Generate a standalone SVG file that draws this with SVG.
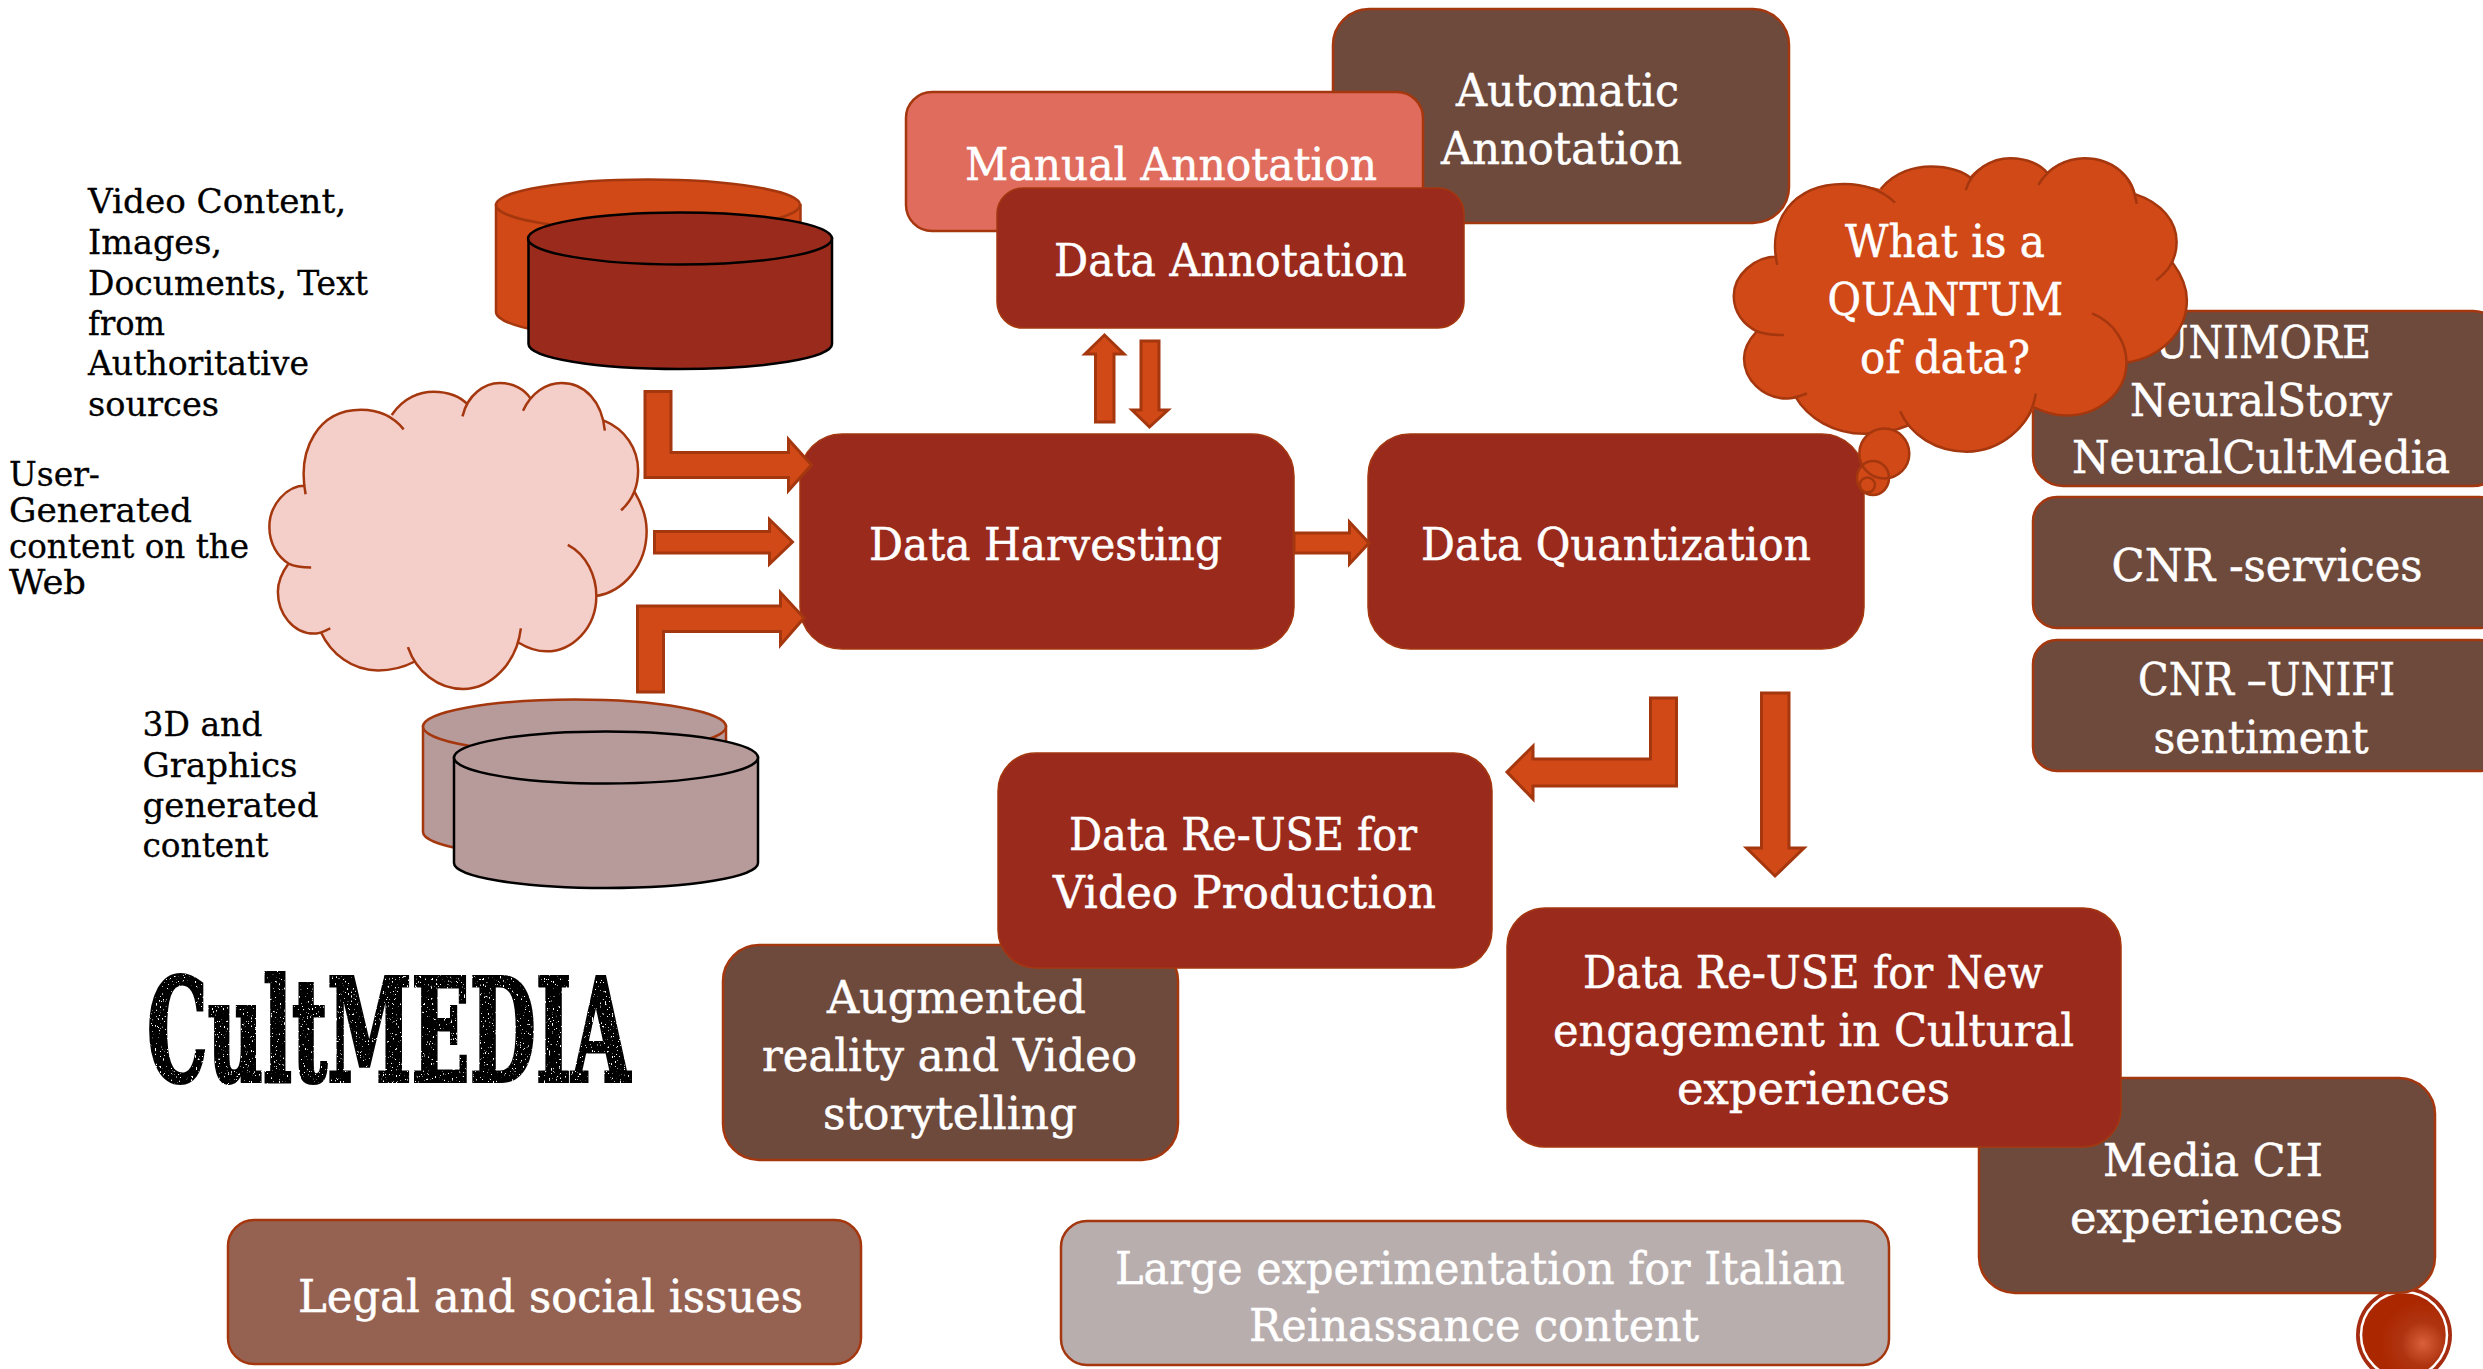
<svg xmlns="http://www.w3.org/2000/svg" xmlns:xlink="http://www.w3.org/1999/xlink" width="2483" height="1369" viewBox="0 0 2483 1369">
<style>
text{font-family:"DejaVu Serif","Liberation Serif",serif}
.t{font-size:44px;fill:#fff;stroke:#fff;stroke-width:.5}
.b{font-size:34px;fill:#000;stroke:#000;stroke-width:.3}
.box{stroke:#a5370f;stroke-width:2.5}
.dark{fill:#9a2b1c;stroke:#a5370f;stroke-width:1.5}
.brown{fill:#6e4a3c}
.arrow{fill:#d04917;stroke:#a5370f;stroke-width:3}
.cloudline{fill:none;stroke:#a5370f;stroke-width:2.5}
</style>
<defs>
<path id="cloudShape" d="M190 325C170 220 220 130 320 130C345 130 370 135 392 142C420 100 460 88 490 88C525 88 550 98 566 112C585 85 615 68 645 68C680 68 702 85 716 102C735 80 760 68 790 68C845 68 885 110 890 155C940 175 970 220 970 270C970 290 968 305 962 320C980 350 990 380 990 410C990 490 935 550 872 560C872 635 815 688 755 688C730 688 710 680 692 668C670 730 620 775 560 775C505 775 465 745 445 712C420 725 390 732 360 732C300 732 250 695 225 642C220 645 215 647 210 647C160 647 125 600 125 550C125 525 135 505 150 485C125 470 105 440 105 400C105 350 145 305 190 305Z"/>
<path id="cloudLines" vector-effect="non-scaling-stroke" d="M190 325C170 220 220 130 320 130C360 130 395 145 420 175M392 142C420 100 460 88 490 88C525 88 555 100 570 118M558 145C570 95 610 68 645 68C680 68 705 85 717 103M700 132C720 90 755 68 790 68C845 68 885 110 892 178M890 155C940 175 970 220 970 270C970 310 955 340 930 362M962 320C980 350 990 380 990 410C990 490 935 550 872 560M805 442C850 465 872 515 872 560C872 635 815 688 755 688C730 688 710 680 690 668M695 635C685 715 625 775 560 775C500 775 450 735 430 678M445 712C420 725 390 732 360 732C300 732 250 695 225 642M248 635C235 640 225 647 210 647C160 647 125 600 125 550C125 525 135 505 150 485C165 492 185 494 203 494M150 485C125 470 105 440 105 400C105 350 145 305 190 305"/>
<filter id="worn" x="0" y="0" width="1" height="1"><feTurbulence type="fractalNoise" baseFrequency="0.4" numOctaves="2" seed="4" result="n"/><feColorMatrix in="n" type="matrix" values="0 0 0 0 0 0 0 0 0 0 0 0 0 0 0 0 0 0 14 -3.700" result="m"/><feComposite in="SourceGraphic" in2="m" operator="in"/></filter>
<radialGradient id="badge" cx="0.72" cy="0.6" r="0.5"><stop offset="0" stop-color="#d8603a"/><stop offset="0.5" stop-color="#b03411"/><stop offset="1" stop-color="#ab2700"/></radialGradient>
</defs>

<g id="page-badge"><circle cx="2404" cy="1335" r="48" fill="#a52c10"/><circle cx="2404" cy="1335" r="43" fill="url(#badge)" stroke="#fff" stroke-width="2.5"/></g>

<g id="source-authoritative">
<path d="M496 205V312C496 326 564 340 648 340S800.500 326 800.500 312V205Z" fill="#d04917" stroke="#a5370f" stroke-width="2.500"/>
<ellipse cx="648" cy="205" rx="152" ry="25.500" fill="#d04917" stroke="#a5370f" stroke-width="2.500"/>
<path d="M528.500 238.500V344C528.500 358 596 369 680 369S832 358 832 344V238.500Z" fill="#9a2b1c" stroke="#000" stroke-width="2.500"/>
<ellipse cx="680" cy="238.500" rx="152" ry="26" fill="#9a2b1c" stroke="#000" stroke-width="2.500"/>
<text class="b" x="88" y="213" textLength="258" lengthAdjust="spacingAndGlyphs">Video Content,</text>
<text class="b" x="88" y="254" textLength="134" lengthAdjust="spacingAndGlyphs">Images,</text>
<text class="b" x="88" y="294.500" textLength="280" lengthAdjust="spacingAndGlyphs">Documents, Text</text>
<text class="b" x="88" y="335" textLength="77" lengthAdjust="spacingAndGlyphs">from</text>
<text class="b" x="88" y="375" textLength="221" lengthAdjust="spacingAndGlyphs">Authoritative</text>
<text class="b" x="88" y="415.500" textLength="131" lengthAdjust="spacingAndGlyphs">sources</text>
</g>

<g id="source-web">
<g transform="translate(224.600 353.600) scale(.4263 .4328)"><use xlink:href="#cloudShape" href="#cloudShape" fill="#f4cec9"/><use xlink:href="#cloudLines" href="#cloudLines" class="cloudline"/></g>
<text class="b" x="9" y="486" textLength="91" lengthAdjust="spacingAndGlyphs">User-</text>
<text class="b" x="9" y="522" textLength="183" lengthAdjust="spacingAndGlyphs">Generated</text>
<text class="b" x="9" y="558" textLength="240" lengthAdjust="spacingAndGlyphs">content on the</text>
<text class="b" x="9" y="594" textLength="77" lengthAdjust="spacingAndGlyphs">Web</text>
</g>

<g id="source-3d">
<path d="M423 726.500V832C423 846 490 858 574.500 858S726 846 726 832V726.500Z" fill="#b79a9a" stroke="#a5370f" stroke-width="2.500"/>
<ellipse cx="574.500" cy="726.500" rx="151.500" ry="27" fill="#b79a9a" stroke="#a5370f" stroke-width="2.500"/>
<path d="M454 757.500V863C454 877 522 888 606 888S758 877 758 863V757.500Z" fill="#b79a9a" stroke="#000" stroke-width="2.500"/>
<ellipse cx="606" cy="757.500" rx="152" ry="26" fill="#b79a9a" stroke="#000" stroke-width="2.500"/>
<text class="b" x="142.500" y="736" textLength="120" lengthAdjust="spacingAndGlyphs">3D and</text>
<text class="b" x="142.500" y="777" textLength="155" lengthAdjust="spacingAndGlyphs">Graphics</text>
<text class="b" x="142.500" y="816.500" textLength="176" lengthAdjust="spacingAndGlyphs">generated</text>
<text class="b" x="142.500" y="857" textLength="126" lengthAdjust="spacingAndGlyphs">content</text>
</g>

<g id="automatic-annotation"><rect class="box brown" x="1333" y="9" width="456" height="214" rx="36"/>
<text class="t" x="1456" y="106" textLength="223" lengthAdjust="spacingAndGlyphs">Automatic</text>
<text class="t" x="1441" y="164" textLength="241" lengthAdjust="spacingAndGlyphs">Annotation</text></g>

<g id="manual-annotation"><rect class="box" x="906" y="92" width="517" height="139" rx="26" fill="#e06c5d"/>
<text class="t" x="965" y="180" textLength="412" lengthAdjust="spacingAndGlyphs">Manual Annotation</text></g>

<g id="data-annotation"><rect class="dark" x="997" y="188" width="467" height="140" rx="26"/>
<text class="t" x="1054" y="276" textLength="353" lengthAdjust="spacingAndGlyphs">Data Annotation</text></g>

<g id="data-harvesting"><rect class="dark" x="800" y="434" width="494" height="215" rx="42"/>
<text class="t" x="869" y="560" textLength="353" lengthAdjust="spacingAndGlyphs">Data Harvesting</text></g>

<g id="data-quantization"><rect class="dark" x="1368" y="434" width="496" height="215" rx="42"/>
<text class="t" x="1421" y="560" textLength="390" lengthAdjust="spacingAndGlyphs">Data Quantization</text></g>

<g id="unimore"><rect class="box brown" x="2033" y="311" width="470" height="175" rx="30"/>
<text class="t" x="2155" y="358" textLength="216" lengthAdjust="spacingAndGlyphs">UNIMORE</text>
<text class="t" x="2130" y="415.500" textLength="262" lengthAdjust="spacingAndGlyphs">NeuralStory</text>
<text class="t" x="2072" y="473" textLength="378" lengthAdjust="spacingAndGlyphs">NeuralCultMedia</text></g>

<g id="cnr-services"><rect class="box brown" x="2033" y="497" width="470" height="131" rx="24"/>
<text class="t" x="2111.500" y="581" textLength="311" lengthAdjust="spacingAndGlyphs">CNR -services</text></g>

<g id="cnr-unifi"><rect class="box brown" x="2033" y="640" width="470" height="131" rx="24"/>
<text class="t" x="2138" y="694.500" textLength="257" lengthAdjust="spacingAndGlyphs">CNR –UNIFI</text>
<text class="t" x="2153.500" y="752.500" textLength="215" lengthAdjust="spacingAndGlyphs">sentiment</text></g>

<g id="quantum-callout">
<g transform="translate(1680 130) scale(.512 .415)"><use xlink:href="#cloudShape" href="#cloudShape" fill="#d04917"/><use xlink:href="#cloudLines" href="#cloudLines" class="cloudline"/></g>
<ellipse cx="1884.300" cy="453.500" rx="25" ry="25" fill="#d04917"/><ellipse cx="1873" cy="478" rx="16" ry="17" fill="#d04917"/><ellipse cx="1867.400" cy="485" rx="7.500" ry="7.500" fill="#d04917"/>
<g fill="none" stroke="#a5370f" stroke-width="2.500"><ellipse cx="1884.300" cy="453.500" rx="25" ry="25"/><ellipse cx="1873" cy="478" rx="16" ry="17"/><ellipse cx="1867.400" cy="485" rx="7.500" ry="7.500"/></g>
<text class="t" x="1845" y="257" textLength="200" lengthAdjust="spacingAndGlyphs">What is a</text>
<text class="t" x="1827.500" y="315" textLength="235.500" lengthAdjust="spacingAndGlyphs">QUANTUM</text>
<text class="t" x="1860" y="373" textLength="170" lengthAdjust="spacingAndGlyphs">of data?</text>
</g>

<g id="media-ch"><rect class="box brown" x="1979" y="1078" width="456" height="215" rx="36"/>
<text class="t" x="2103" y="1176" textLength="220" lengthAdjust="spacingAndGlyphs">Media CH</text>
<text class="t" x="2070" y="1233" textLength="273" lengthAdjust="spacingAndGlyphs">experiences</text></g>

<g id="reuse-engagement"><rect class="dark" x="1507" y="908" width="614" height="239" rx="38"/>
<text class="t" x="1583" y="988" textLength="460" lengthAdjust="spacingAndGlyphs">Data Re-USE for New</text>
<text class="t" x="1553" y="1046" textLength="521" lengthAdjust="spacingAndGlyphs">engagement in Cultural</text>
<text class="t" x="1677" y="1104" textLength="273" lengthAdjust="spacingAndGlyphs">experiences</text></g>

<g id="augmented-reality"><rect class="box brown" x="723" y="945" width="455" height="215" rx="36"/>
<text class="t" x="827" y="1013" textLength="259" lengthAdjust="spacingAndGlyphs">Augmented</text>
<text class="t" x="762" y="1071" textLength="375" lengthAdjust="spacingAndGlyphs">reality and Video</text>
<text class="t" x="823" y="1129" textLength="254" lengthAdjust="spacingAndGlyphs">storytelling</text></g>

<g id="reuse-video"><rect class="dark" x="998" y="753" width="494" height="215" rx="38"/>
<text class="t" x="1069" y="850" textLength="348" lengthAdjust="spacingAndGlyphs">Data Re-USE for</text>
<text class="t" x="1053" y="908" textLength="383" lengthAdjust="spacingAndGlyphs">Video Production</text></g>

<g id="logo"><text transform="translate(147 1081) scale(.533 1)" font-size="143" font-weight="bold" fill="#000" stroke="#000" stroke-width="4" filter="url(#worn)">CultMEDIA</text></g>

<g id="legal"><rect class="box" x="228" y="1220" width="633" height="144" rx="26" fill="#956251"/>
<text class="t" x="298" y="1312" textLength="505" lengthAdjust="spacingAndGlyphs">Legal and social issues</text></g>

<g id="large-experimentation"><rect class="box" x="1061" y="1221" width="828" height="144" rx="26" fill="#b8aeae"/>
<text class="t" x="1115" y="1284" textLength="730" lengthAdjust="spacingAndGlyphs">Large experimentation for Italian</text>
<text class="t" x="1249" y="1341" textLength="450" lengthAdjust="spacingAndGlyphs">Reinassance content</text></g>

<g id="connectors">
<path class="arrow" d="M645 391.500H671V452.500H788.500V439.500L811.500 465L788.500 490.500V477.500H645Z"/>
<path class="arrow" d="M654.500 531.500H769.500V519.500L792.500 542L769.500 564V553H654.500Z"/>
<path class="arrow" d="M637.500 692V606H780.500V592.500L804 618L780.500 645V631.500H663.500V692Z"/>
<path class="arrow" d="M1095.500 422V354H1085L1104.500 335L1124 354H1114V422Z"/>
<path class="arrow" d="M1141 341H1159V410H1168L1149.500 427L1132 410H1141Z"/>
<path class="arrow" d="M1294 533H1349.500V522L1369 543L1349.500 564V553H1294Z"/>
<path class="arrow" d="M1650.500 698H1676.500V786H1533V799L1507 772L1533 746V759H1650.500Z"/>
<path class="arrow" d="M1761.500 693H1789V848H1804L1775 876L1746.500 848H1761.500Z"/>
</g>
</svg>
